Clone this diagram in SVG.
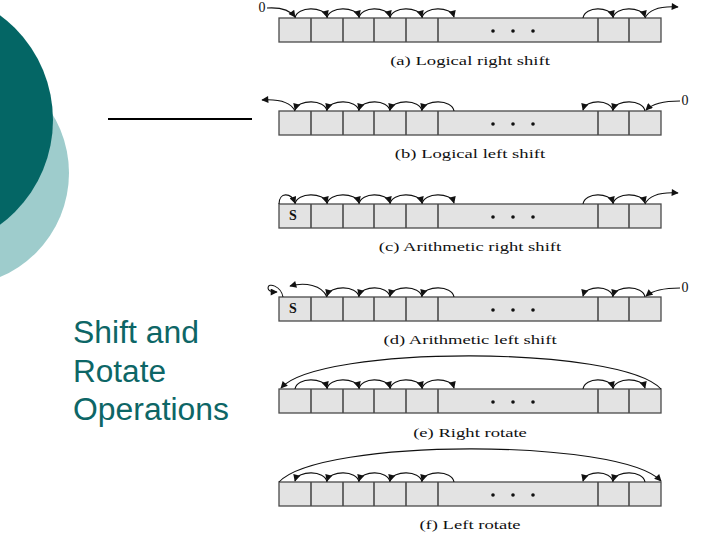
<svg xmlns="http://www.w3.org/2000/svg" xmlns:xlink="http://www.w3.org/1999/xlink" width="720" height="540" viewBox="0 0 720 540">
<style>
.cell{fill:#e3e3e3;stroke:#4a4a4a;stroke-width:1.3}
.div{stroke:#4a4a4a;stroke-width:1.6}
.dot{fill:#111}
.arc{fill:none;stroke:#111;stroke-width:1.1;marker-end:url(#ah)}
.lbl{font-family:"Liberation Serif","Times New Roman",serif;font-size:13.5px;fill:#111}
.zero{font-family:"Liberation Serif","Times New Roman",serif;font-size:14px;fill:#111}
.s{font-family:"Liberation Serif","Times New Roman",serif;font-size:14px;font-weight:bold;fill:#111}
.title{font-family:"Liberation Sans",Arial,sans-serif;font-size:31px;fill:#0d6666}
</style>
<defs>
<marker id="ah" viewBox="0 0 10 10" refX="9" refY="5" markerWidth="9" markerHeight="7" orient="auto" markerUnits="userSpaceOnUse">
<path d="M0,0 L10,5 L0,10 z" fill="#111"/>
</marker>
<g id="reg">
<rect class="cell" x="279" y="0" width="382" height="24"/>
<path class="div" d="M311 0V24M343 0V24M374 0V24M406 0V24M438 0V24M598 0V24M629 0V24"/>
<circle class="dot" cx="493" cy="13" r="1.8"/>
<circle class="dot" cx="513" cy="13" r="1.8"/>
<circle class="dot" cx="533" cy="13" r="1.8"/>
</g>
</defs>
<rect width="720" height="540" fill="#fff"/>
<g id="decor">
<circle cx="-44" cy="173" r="113" fill="#9ecccc"/>
<circle cx="-77" cy="120" r="130" fill="#046665"/>
<line x1="108" y1="119" x2="252" y2="119" stroke="#000" stroke-width="2"/>
<text class="title" x="73" y="343" textLength="126" lengthAdjust="spacingAndGlyphs">Shift and</text>
<text class="title" x="73" y="382" textLength="93" lengthAdjust="spacingAndGlyphs">Rotate</text>
<text class="title" x="73" y="420" textLength="156" lengthAdjust="spacingAndGlyphs">Operations</text>
</g>
<g id="reg-a">
<use xlink:href="#reg" transform="translate(0,18)"/>
<text class="zero" x="262" y="12" text-anchor="middle">0</text>
<text class="lbl" text-anchor="middle" transform="translate(470,65) scale(1.38,1)">(a) Logical right shift</text>
</g>
<g id="reg-b">
<use xlink:href="#reg" transform="translate(0,111)"/>
<text class="zero" x="685" y="105" text-anchor="middle">0</text>
<text class="lbl" text-anchor="middle" transform="translate(470,158) scale(1.38,1)">(b) Logical left shift</text>
</g>
<g id="reg-c">
<use xlink:href="#reg" transform="translate(0,204)"/>
<text class="s" x="293" y="220" text-anchor="middle">S</text>
<text class="lbl" text-anchor="middle" transform="translate(470,251) scale(1.38,1)">(c) Arithmetic right shift</text>
</g>
<g id="reg-d">
<use xlink:href="#reg" transform="translate(0,297)"/>
<text class="s" x="293" y="313" text-anchor="middle">S</text>
<text class="zero" x="685" y="292" text-anchor="middle">0</text>
<text class="lbl" text-anchor="middle" transform="translate(470,344) scale(1.38,1)">(d) Arithmetic left shift</text>
</g>
<g id="reg-e">
<use xlink:href="#reg" transform="translate(0,389)"/>
<text class="lbl" text-anchor="middle" transform="translate(470,437) scale(1.38,1)">(e) Right rotate</text>
</g>
<g id="reg-f">
<use xlink:href="#reg" transform="translate(0,482)"/>
<text class="lbl" text-anchor="middle" transform="translate(470,529) scale(1.38,1)">(f) Left rotate</text>
</g>
<g id="connectors">
<path class="arc" d="M267 8C282 7 290 10 295 17"/>
<path class="arc" d="M295 18C297 6 324 6 327 17"/>
<path class="arc" d="M327 18C329 6 356 6 359 17"/>
<path class="arc" d="M359 18C361 6 387 6 390 17"/>
<path class="arc" d="M390 18C392 6 419 6 422 17"/>
<path class="arc" d="M422 18C424 6 451 6 454 17"/>
<path class="arc" d="M583 18C585 6 610 6 613 17"/>
<path class="arc" d="M613 18C615 6 642 6 645 17"/>
<path class="arc" d="M645 18C650 8 662 6 678 7"/>
<path class="arc" d="M680 101C665 101 652 104 646 110"/>
<path class="arc" d="M645 111C643 99 616 99 613 110"/>
<path class="arc" d="M613 111C611 99 586 99 583 110"/>
<path class="arc" d="M454 111C452 99 425 99 422 110"/>
<path class="arc" d="M422 111C420 99 393 99 390 110"/>
<path class="arc" d="M390 111C388 99 362 99 359 110"/>
<path class="arc" d="M359 111C357 99 330 99 327 110"/>
<path class="arc" d="M327 111C325 99 298 99 295 110"/>
<path class="arc" d="M295 111C290 101 278 99 262 100"/>
<path class="arc" d="M279 204C279 192 291 192 295 203"/>
<path class="arc" d="M295 204C297 192 324 192 327 203"/>
<path class="arc" d="M327 204C329 192 356 192 359 203"/>
<path class="arc" d="M359 204C361 192 387 192 390 203"/>
<path class="arc" d="M390 204C392 192 419 192 422 203"/>
<path class="arc" d="M422 204C424 192 451 192 454 203"/>
<path class="arc" d="M583 204C585 192 610 192 613 203"/>
<path class="arc" d="M613 204C615 192 642 192 645 203"/>
<path class="arc" d="M645 204C650 194 662 192 678 193"/>
<path class="arc" d="M680 288C665 288 652 291 646 296"/>
<path class="arc" d="M645 297C643 285 616 285 613 296"/>
<path class="arc" d="M613 297C611 285 586 285 583 296"/>
<path class="arc" d="M454 297C452 285 425 285 422 296"/>
<path class="arc" d="M422 297C420 285 393 285 390 296"/>
<path class="arc" d="M390 297C388 285 362 285 359 296"/>
<path class="arc" d="M359 297C357 285 330 285 327 296"/>
<path class="arc" d="M327 297C322 285 305 282 290 286"/>
<path class="arc" d="M283 297C281 286 268 282 268 288C268 291 272 292 277 292"/>
<path class="arc" d="M295 389C297 377 324 377 327 388"/>
<path class="arc" d="M327 389C329 377 356 377 359 388"/>
<path class="arc" d="M359 389C361 377 387 377 390 388"/>
<path class="arc" d="M390 389C392 377 419 377 422 388"/>
<path class="arc" d="M422 389C424 377 451 377 454 388"/>
<path class="arc" d="M583 389C585 377 610 377 613 388"/>
<path class="arc" d="M613 389C615 377 642 377 645 388"/>
<path class="arc" d="M661 389C620 345 320 345 281 388"/>
<path class="arc" d="M454 482C452 470 425 470 422 481"/>
<path class="arc" d="M422 482C420 470 393 470 390 481"/>
<path class="arc" d="M390 482C388 470 362 470 359 481"/>
<path class="arc" d="M359 482C357 470 330 470 327 481"/>
<path class="arc" d="M327 482C325 470 298 470 295 481"/>
<path class="arc" d="M645 482C643 470 616 470 613 481"/>
<path class="arc" d="M613 482C611 470 586 470 583 481"/>
<path class="arc" d="M279 482C320 438 620 438 661 481"/>
</g>
</svg>
